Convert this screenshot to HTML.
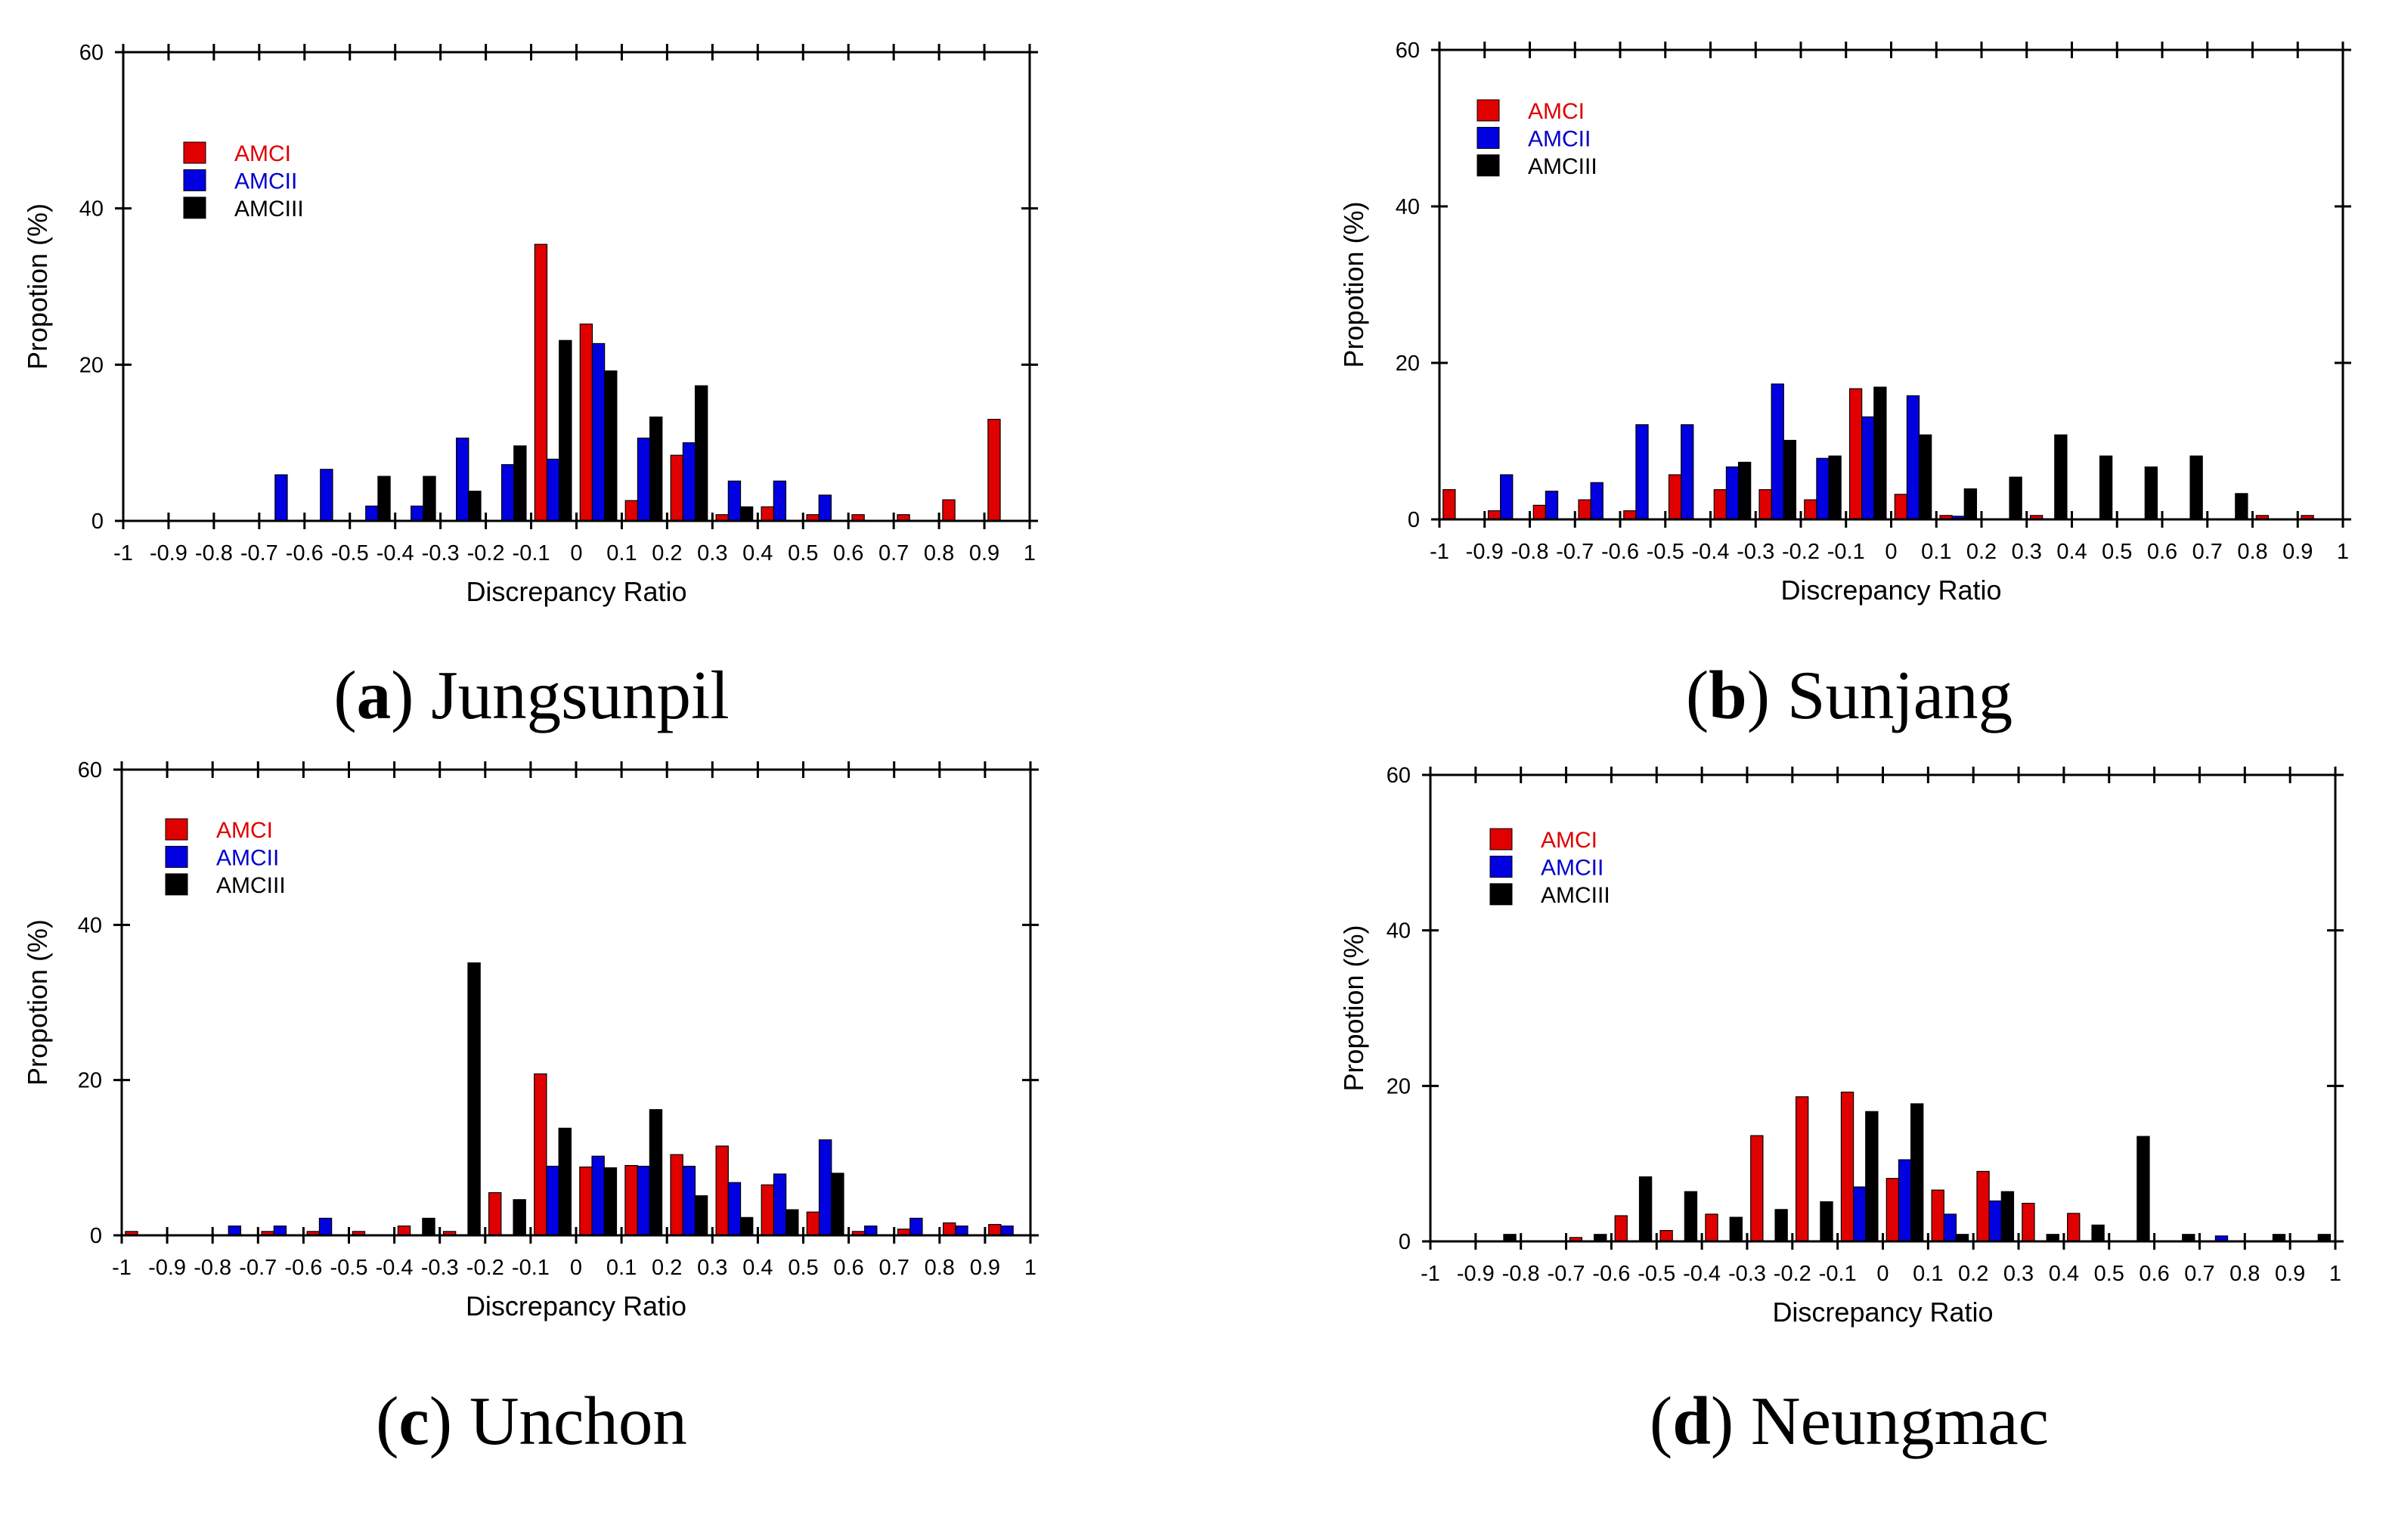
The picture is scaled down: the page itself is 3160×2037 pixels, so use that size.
<!DOCTYPE html>
<html><head><meta charset="utf-8"><style>
html,body{margin:0;padding:0;background:#fff;}
svg{display:block;}
text{font-family:"Liberation Sans",sans-serif;}
.cap{font-family:"Liberation Serif",serif;font-size:91px;}
</style></head><body>
<svg id="fig" width="3160" height="2037" viewBox="0 0 3160 2037" xmlns="http://www.w3.org/2000/svg">
<rect width="3160" height="2037" fill="#fff"/>
<text class="cap" x="703" y="950" text-anchor="middle">(<tspan font-weight="bold">a</tspan>) Jungsunpil</text>
<text class="cap" x="2446" y="950" text-anchor="middle">(<tspan font-weight="bold">b</tspan>) Sunjang</text>
<text class="cap" x="703" y="1910" text-anchor="middle">(<tspan font-weight="bold">c</tspan>) Unchon</text>
<text class="cap" x="2446" y="1910" text-anchor="middle">(<tspan font-weight="bold">d</tspan>) Neungmac</text>
</svg>
<script>
const xTicks = ["-1","-0.9","-0.8","-0.7","-0.6","-0.5","-0.4","-0.3","-0.2","-0.1","0","0.1","0.2","0.3","0.4","0.5","0.6","0.7","0.8","0.9","1"];
const yTicks = [0,20,40,60];
const seriesNames = ["AMCI","AMCII","AMCIII"];
const aRed   = [0,0,0,0,0,0,0,0,0,35.4,25.2,2.6,8.4,0.8,1.8,0.8,0.8,0.8,2.7,13];
const aBlue  = [0,0,0,5.9,6.6,1.9,1.9,10.6,7.2,7.9,22.7,10.6,10,5.1,5.1,3.3,0,0,0,0];
const aBlack = [0,0,0,0,0,5.7,5.7,3.8,9.6,23.1,19.2,13.3,17.3,1.8,0,0,0,0,0,0];
const bRed   = [3.8,1.1,1.8,2.5,1.1,5.7,3.8,3.8,2.5,16.7,3.2,0.5,0,0.5,0,0,0,0,0.5,0.5];
const bBlue  = [0,5.7,3.6,4.7,12.1,12.1,6.7,17.3,7.8,13.1,15.8,0.4,0,0,0,0,0,0,0,0];
const bBlack = [0,0,0,0,0,0,7.3,10.1,8.1,16.9,10.8,3.9,5.4,10.8,8.1,6.7,8.1,3.3,0,0];
const cRed   = [0.5,0,0,0.5,0.5,0.5,1.2,0.5,5.5,20.8,8.8,9.0,10.4,11.5,6.5,3.0,0.5,0.8,1.6,1.4];
const cBlue  = [0,0,1.2,1.2,2.2,0,0,0,0,8.9,10.2,8.9,8.9,6.8,7.9,12.3,1.2,2.2,1.2,1.2];
const cBlack = [0,0,0,0,0,0,2.2,35.1,4.6,13.8,8.7,16.2,5.1,2.3,3.3,8.0,0,0,0,0];
const dRed   = [0,0,0,0.5,3.3,1.4,3.5,13.6,18.6,19.2,8.1,6.6,9.0,4.9,3.6,0,0,0,0,0];
const dBlue  = [0,0,0,0,0,0,0,0,0,7.0,10.5,3.5,5.2,0,0,0,0,0.7,0,0];
const dBlack = [0,0.9,0,0.9,8.3,6.4,3.1,4.1,5.1,16.7,17.7,0.9,6.4,0.9,2.1,13.5,0.9,0,0.9,0.9];

const NS = "http://www.w3.org/2000/svg";
const svg = document.getElementById('fig');
const colors = ["#e00000","#0000e0","#000000"];
const textColors = ["#e00000","#0000d0","#000000"];
function mk(tag, attrs, parent){
  const e = document.createElementNS(NS, tag);
  for (const k in attrs) e.setAttribute(k, attrs[k]);
  (parent||svg).appendChild(e);
  return e;
}
function panel(id, L, R, Y0, Y60, series, legX, legY, titleX){
  const g = mk('g', {});
  
  
  const xs = v => L + (v + 1) / 2 * (R - L);
  const ys = v => Y0 - v / 60 * (Y0 - Y60);
  const bw = (R - L) / 20;
  const offs = [0.08, 0.35, 0.62];
  series.forEach((arr, s) => {
    arr.forEach((v, i) => {
      if (v <= 0) return;
      const x0 = xs(-1 + i * 0.1) + offs[s] * bw;
      const r = mk('rect', {x: x0, y: ys(v), width: bw * 0.27, height: ys(0) - ys(v), fill: colors[s], stroke: '#000', 'stroke-width': 1.2}, g);
      
      
    });
  });
  const fr = mk('rect', {x: L, y: Y60, width: R - L, height: Y0 - Y60, fill: 'none', stroke: '#000', 'stroke-width': 3}, g);
  
  
  xTicks.forEach((t, i) => {
    const x = xs(-1 + i * 0.1);
    mk('line', {x1: x, x2: x, y1: Y0 - 11, y2: Y0 + 11, stroke: '#000', 'stroke-width': 3}, g);
    mk('line', {x1: x, x2: x, y1: Y60 - 11, y2: Y60 + 11, stroke: '#000', 'stroke-width': 3}, g);
    const tx = mk('text', {x: x, y: Y0 + 52, 'text-anchor': 'middle', 'font-size': 29}, g);
    tx.textContent = t;
    
    
  });
  yTicks.forEach(t => {
    const y = ys(t);
    mk('line', {x1: L - 11, x2: L + 11, y1: y, y2: y, stroke: '#000', 'stroke-width': 3}, g);
    mk('line', {x1: R - 11, x2: R + 11, y1: y, y2: y, stroke: '#000', 'stroke-width': 3}, g);
    const tx = mk('text', {x: L - 26, y: y + 10, 'text-anchor': 'end', 'font-size': 29}, g);
    tx.textContent = t;
    
    
  });
  const xt = mk('text', {x: (L + R) / 2, y: Y0 + 106, 'text-anchor': 'middle', 'font-size': 36}, g);
  xt.textContent = 'Discrepancy Ratio';
  
  
  const ty = (Y0 + Y60) / 2;
  const yt = mk('text', {x: titleX, y: ty, 'text-anchor': 'middle', 'font-size': 36, transform: 'rotate(-90 ' + titleX + ' ' + ty + ')'}, g);
  yt.textContent = 'Propotion (%)';
  
  
  seriesNames.forEach((n, s) => {
    const y = legY + s * 36.4;
    const sw = mk('rect', {x: legX, y: y, width: 29, height: 28, fill: colors[s], stroke: '#000', 'stroke-width': 1}, g);
    
    
    const lt = mk('text', {x: legX + 67, y: y + 25, 'font-size': 30, fill: textColors[s]}, g);
    lt.textContent = n;
    
    
  });
}
panel('a', 163, 1362, 689, 69, [aRed, aBlue, aBlack], 243, 188, 62);
panel('b', 1904, 3099, 687, 66, [bRed, bBlue, bBlack], 1954, 132, 1803);
panel('c', 161, 1363, 1634, 1018, [cRed, cBlue, cBlack], 219, 1083, 62);
panel('d', 1892, 3089, 1642, 1025, [dRed, dBlue, dBlack], 1971, 1096, 1803);
</script>
</body></html>
